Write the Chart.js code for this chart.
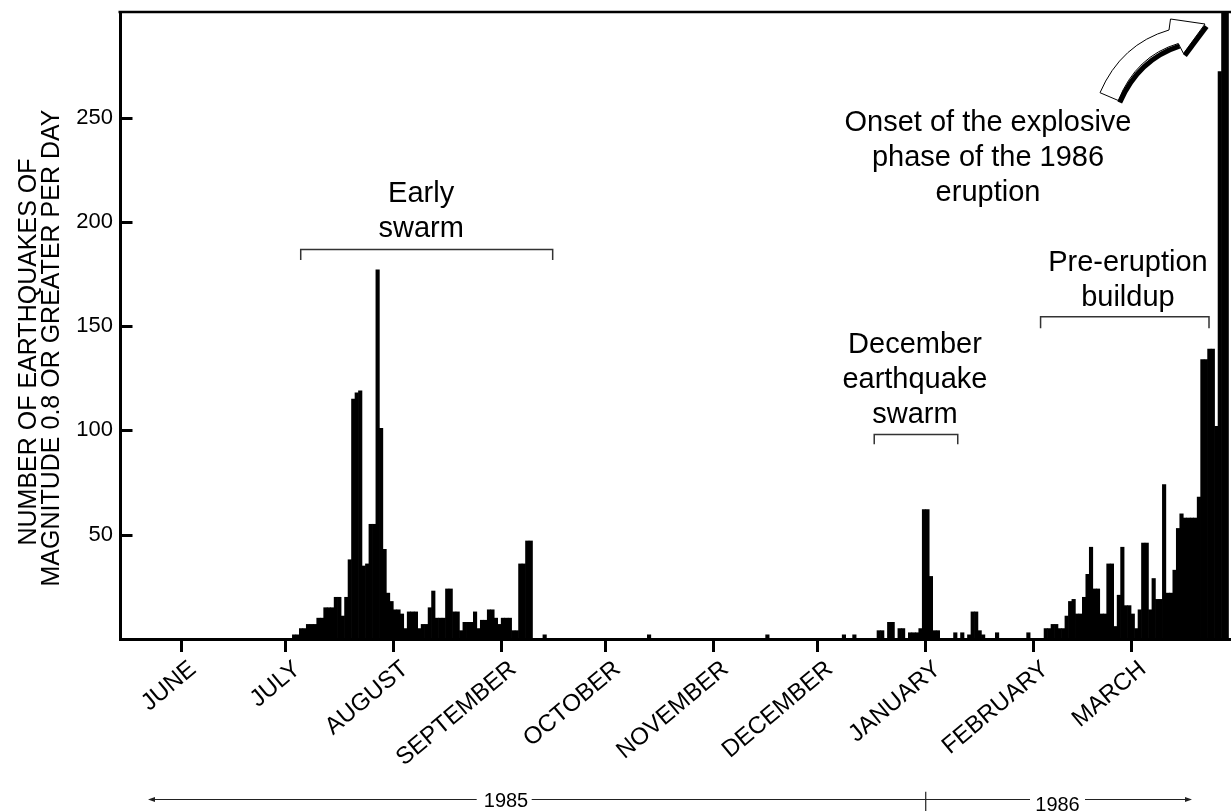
<!DOCTYPE html>
<html>
<head>
<meta charset="utf-8">
<script src="https://cdn.jsdelivr.net/npm/chart.js@4.4.1/dist/chart.umd.min.js"></script>
<style>
html,body{margin:0;padding:0;background:#fff;}
#wrap{width:1231px;height:811px;position:relative;}
canvas{display:block;}
</style>
</head>
<body>
<div id="wrap"><canvas id="c" width="1231" height="811"></canvas></div>
<script>
// ---- Axis categories / tick labels ----
const monthLabels = ['JUNE','JULY','AUGUST','SEPTEMBER','OCTOBER','NOVEMBER','DECEMBER','JANUARY','FEBRUARY','MARCH'];
const monthLengths = [30,31,31,30,31,30,31,31,28,31];
const yTickValues = [50,100,150,200,250];
const yearLabels = ['1985','1986'];

// ---- Daily counts of earthquakes (M >= 0.8), one value per day ----
const jun1985 = [0,0,0,0,0,0,0,0,0,0,0,0,0,0,0,0,0,0,0,0,0,0,0,0,0,0,0,0,0,0];
const jul1985 = [0,0,2,2,5,5,7,7,7,10,10,15,15,15,20,20,11,20,38,115,118,119,35,36,55,55,177,101,43,22,18];
const aug1985 = [14,14,12,5,13,13,13,5,7,7,15,23,10,10,10,24,24,13,13,4,8,8,8,13,5,9,9,14,14,10,7];
const sep1985 = [10,10,10,4,4,36,36,47,47,0,0,0,2,0,0,0,0,0,0,0,0,0,0,0,0,0,0,0,0,0];
const oct1985 = [0,0,0,0,0,0,0,0,0,0,0,0,2,0,0,0,0,0,0,0,0,0,0,0,0,0,0,0,0,0,0];
const nov1985 = [0,0,0,0,0,0,0,0,0,0,0,0,0,0,0,2,0,0,0,0,0,0,0,0,0,0,0,0,0,0];
const dec1985 = [0,0,0,0,0,0,0,2,0,0,2,0,0,0,0,0,0,4,4,0,8,8,0,5,5,0,3,3,3,5,62];
const jan1986 = [62,30,4,4,0,0,0,0,3,0,3,0,2,13,13,4,2,0,0,0,3,0,0,0,0,0,0,0,0,3,0];
const feb1986 = [0,0,0,5,5,7,7,5,5,11,18,19,12,12,20,31,44,24,24,12,12,36,36,6,21,44,16,16];
const mar1986 = [12,5,14,46,46,14,29,19,19,74,22,22,33,53,60,58,58,58,58,68,134,134,139,139,102,272,310,310,0];

const dailyCounts = [].concat(jun1985, jul1985, aug1985, sep1985, oct1985, nov1985,
                              dec1985, jan1986, feb1986, mar1986);

// day index 0 = 1 June 1985; month start indices
const monthStarts = [];
monthLengths.reduce((acc, len) => { monthStarts.push(acc); return acc + len; }, 0);

const barPoints = dailyCounts.map((v, i) => ({ x: i + 0.5, y: v }));

// ---- Layout / styling constants ----
const FONT = "'Liberation Sans', Arial, Helvetica, sans-serif";
const X_MIN = -17.53, X_MAX = 301.72, Y_MAX = 300.6;

// annotations in data units (day index, count)
const brackets = [
  { from: 34.4,  to: 106.8, y: 186.7, drop: 5.0 },
  { from: 199.2, to: 223.2, y: 98.1,  drop: 4.7 },
  { from: 247.0, to: 295.4, y: 154.5, drop: 5.5 }
];
const notes = [
  { x: 69.0,  lines: [['Early', 209.5], ['swarm', 192.7]] },
  { x: 210.9, lines: [['December', 137.1], ['earthquake', 120.3], ['swarm', 103.6]] },
  { x: 272.1, lines: [['Pre-eruption', 176.4], ['buildup', 159.7]] },
  { x: 231.9, lines: [['Onset of the explosive', 243.6], ['phase of the 1986', 226.8], ['eruption', 210.0]] }
];

const decorPlugin = {
  id: 'decor',
  afterDraw(chart) {
    const { ctx, chartArea: ca, scales: { x, y } } = chart;
    ctx.save();

    // top frame line
    ctx.strokeStyle = '#000';
    ctx.lineWidth = 2.6;
    ctx.beginPath();
    ctx.moveTo(ca.left - 1.5, ca.top);
    ctx.lineTo(ca.right, ca.top);
    ctx.stroke();

    // inward y tick marks
    ctx.lineWidth = 3;
    yTickValues.forEach(v => {
      const py = Math.round(y.getPixelForValue(v)) + 0.5;
      ctx.beginPath();
      ctx.moveTo(ca.left, py);
      ctx.lineTo(ca.left + 12.5, py);
      ctx.stroke();
    });

    // brackets
    ctx.strokeStyle = '#333';
    ctx.lineWidth = 1.5;
    brackets.forEach(b => {
      const x1 = x.getPixelForValue(b.from), x2 = x.getPixelForValue(b.to);
      const py = y.getPixelForValue(b.y), pd = y.getPixelForValue(b.y - b.drop);
      ctx.beginPath();
      ctx.moveTo(x1, pd); ctx.lineTo(x1, py); ctx.lineTo(x2, py); ctx.lineTo(x2, pd);
      ctx.stroke();
    });

    // annotation text
    ctx.fillStyle = '#000';
    ctx.font = '29px ' + FONT;
    ctx.textAlign = 'center';
    ctx.textBaseline = 'alphabetic';
    notes.forEach(n => {
      const px = x.getPixelForValue(n.x);
      n.lines.forEach(([t, v]) => ctx.fillText(t, px, y.getPixelForValue(v)));
    });

    // curved hollow arrow
    ctx.lineJoin = 'round';
    ctx.beginPath();
    ctx.moveTo(1100, 92.7);
    ctx.quadraticCurveTo(1121, 44, 1169, 30);
    ctx.lineTo(1170.5, 19);
    ctx.lineTo(1205, 24);
    ctx.lineTo(1183.5, 53.5);
    ctx.lineTo(1178.3, 43.5);
    ctx.quadraticCurveTo(1136, 56, 1118.3, 100.5);
    ctx.closePath();
    ctx.fillStyle = '#fff';
    ctx.fill();
    ctx.strokeStyle = '#000';
    ctx.lineWidth = 1;
    ctx.stroke();
    ctx.lineWidth = 5;
    ctx.lineCap = 'butt';
    ctx.beginPath();
    ctx.moveTo(1119.8, 102.5);
    ctx.quadraticCurveTo(1138.5, 59.5, 1179.5, 46.2);
    ctx.stroke();
    ctx.beginPath();
    ctx.moveTo(1184.8, 55.5);
    ctx.lineTo(1206.5, 26.5);
    ctx.stroke();

    // y-axis title (two lines)
    ctx.fillStyle = '#000';
    ctx.font = '25px ' + FONT;
    ctx.textAlign = 'center';
    ctx.textBaseline = 'alphabetic';
    [['NUMBER OF EARTHQUAKES OF', 35.5, 352], ['MAGNITUDE 0.8 OR GREATER PER DAY', 59, 348]].forEach(([t, bx, cy]) => {
      ctx.save();
      ctx.translate(bx, cy);
      ctx.rotate(-Math.PI / 2);
      ctx.fillText(t, 0, 0);
      ctx.restore();
    });

    // year span line at bottom
    const ly = 799.5;
    const divX = x.getPixelForValue(monthStarts[7]);
    ctx.strokeStyle = '#222';
    ctx.fillStyle = '#222';
    ctx.lineWidth = 1.2;
    ctx.beginPath();
    ctx.moveTo(150, ly); ctx.lineTo(476.7, ly);
    ctx.moveTo(531.7, ly); ctx.lineTo(1030, ly);
    ctx.moveTo(1085, ly); ctx.lineTo(1190, ly);
    ctx.moveTo(divX, 791.7); ctx.lineTo(divX, 811);
    ctx.stroke();
    // arrow heads
    ctx.beginPath();
    ctx.moveTo(148, ly); ctx.lineTo(155, ly - 2.6); ctx.lineTo(155, ly + 2.6); ctx.closePath();
    ctx.moveTo(1192, ly); ctx.lineTo(1185, ly - 2.6); ctx.lineTo(1185, ly + 2.6); ctx.closePath();
    ctx.fill();
    ctx.fillStyle = '#000';
    ctx.font = '20px ' + FONT;
    ctx.textAlign = 'center';
    ctx.fillText(yearLabels[0], 506, 806.7);
    ctx.fillText(yearLabels[1], 1057.5, 810.5);

    ctx.restore();
  }
};

Chart.defaults.font.family = FONT;
Chart.defaults.color = '#000';

new Chart(document.getElementById('c'), {
  type: 'bar',
  data: {
    datasets: [{
      data: barPoints,
      backgroundColor: '#000',
      borderWidth: 0,
      barPercentage: 1,
      categoryPercentage: 1
    }]
  },
  options: {
    responsive: false,
    animation: false,
    devicePixelRatio: 1,
    layout: { padding: { top: 12, left: 0, right: 0, bottom: 0 } },
    plugins: { legend: { display: false }, tooltip: { enabled: false } },
    scales: {
      x: {
        type: 'linear',
        min: X_MIN,
        max: X_MAX,
        offset: false,
        afterBuildTicks: s => { s.ticks = monthStarts.map(v => ({ value: v })); },
        afterFit: s => { s.height = 172; s.paddingLeft = 0; s.paddingRight = 0; },
        grid: { display: true, drawOnChartArea: false, drawTicks: true, tickLength: 13, lineWidth: 3, color: '#000', offset: false },
        border: { display: true, width: 3, color: '#000' },
        ticks: {
          autoSkip: false,
          minRotation: 40,
          maxRotation: 40,
          padding: 3,
          labelOffset: 12,
          color: '#000',
          font: { size: 24, family: FONT },
          callback: v => { const i = monthStarts.indexOf(v); return i >= 0 ? monthLabels[i] : ''; }
        }
      },
      y: {
        min: 0,
        max: Y_MAX,
        afterBuildTicks: s => { s.ticks = yTickValues.map(v => ({ value: v })); },
        afterFit: s => { s.width = 120; s.paddingTop = 0; s.paddingBottom = 0; },
        grid: { display: false, drawTicks: false },
        border: { display: true, width: 3, color: '#000' },
        ticks: {
          autoSkip: false,
          padding: 7,
          color: '#000',
          font: { size: 22, family: FONT },
          callback: v => String(v)
        }
      }
    }
  },
  plugins: [decorPlugin]
});
</script>
</body>
</html>
